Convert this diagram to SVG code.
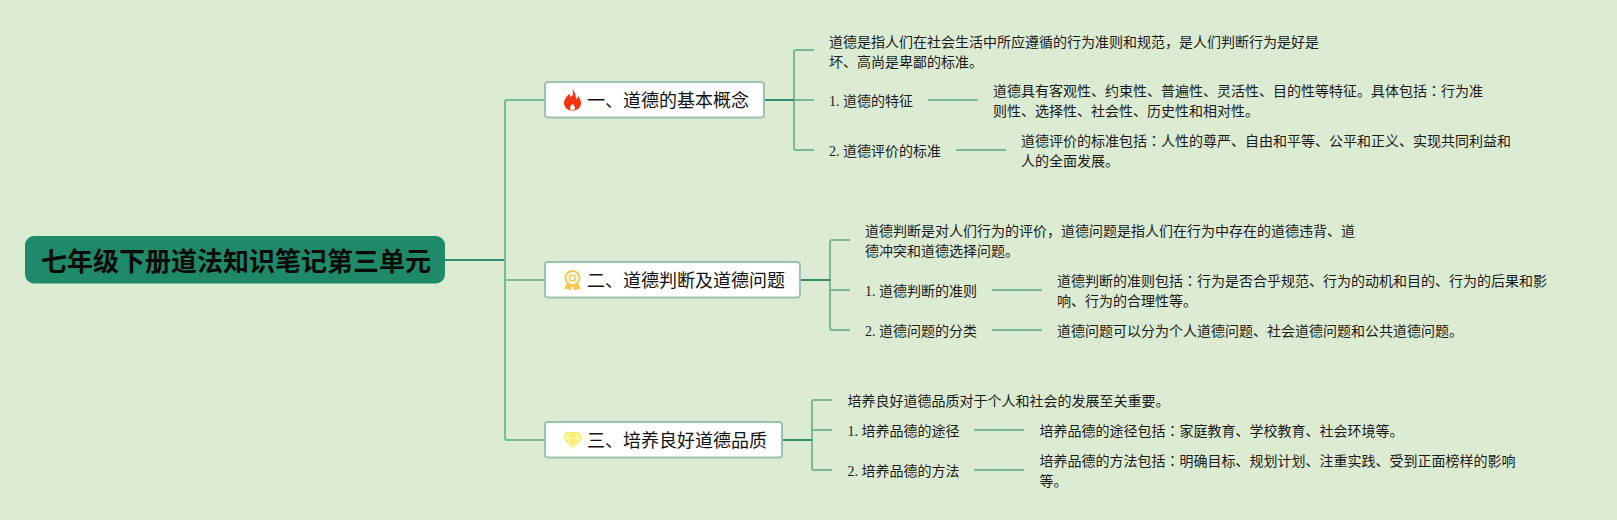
<svg xmlns="http://www.w3.org/2000/svg" width="1617" height="520" viewBox="0 0 1617 520">
<style>
text{font-family:"Liberation Serif","Noto Sans CJK SC",sans-serif;fill:#1a1a1a}
.t{font-size:14px}
.b{font-size:18px;fill:#111}
.r{font-size:26px;font-weight:700;fill:#0a0a0a}
.c{font-family:"Noto Sans CJK JP",sans-serif}
.box{fill:#fff;stroke:#9cc2b2;stroke-width:2}
.l{fill:none;stroke:#7ab896;stroke-width:2}
.d{fill:none;stroke:#2e8d6c;stroke-width:2}
</style>
<rect width="1617" height="520" fill="#dcecd2"/>
<g id="connectors">
<path class="d" d="M445 260H505"/>
<path class="l" d="M545 100H507Q505 100 505 102V438Q505 440 507 440H545M505 280H545"/>
<path class="l" d="M814 50H796Q794 50 794 52V148Q794 150 796 150H814M794 100H814"/>
<path class="d" d="M764 100H794"/>
<path class="l" d="M928 100H978M956 150H1006"/>
<path class="l" d="M850 240H832Q830 240 830 242V328Q830 330 832 330H850M830 290H850"/>
<path class="d" d="M800 280H830"/>
<path class="l" d="M992 290H1042M992 330H1042"/>
<path class="l" d="M832 400H814Q812 400 812 402V468Q812 470 814 470H832M812 430H832"/>
<path class="d" d="M782 440H812"/>
<path class="l" d="M974 430H1024M974 470H1024"/>
</g>
<g id="root">
<rect x="25" y="236" width="420" height="47.500" rx="9" fill="#1f8a69"/>
<text class="r" x="41" y="271">七年级下册道法知识笔记第三单元</text>
</g>
<g id="branch1">
<rect class="box" x="545" y="82" width="219" height="35.500" rx="3"/>
<path d="M572 89C574 93 573 95 571 97C570 96 570 95 569 94C566 97 564 100 564 103C564 108 568 110.500 572.500 110.500C577 110.500 581 108 581 103C581 100 579 97 578 96C578 98 577 99 576 99C576 96 575 91 572 89ZM572.500 104C574 105.500 575 106.500 575 108C575 109.500 574 110 572.500 110C571 110 570 109.500 570 108C570 106.500 571 105.500 572.500 104Z" fill-rule="evenodd" fill="#f5330f"/>
<text class="b" x="587" y="107">一、道德的基本概念</text>
</g>
<g id="branch2">
<rect class="box" x="545" y="262" width="255" height="35.500" rx="3"/>
<circle cx="572.500" cy="278" r="7" fill="none" stroke="#f8c84e" stroke-width="2"/>
<circle cx="572.500" cy="278" r="3" fill="none" stroke="#f8c84e" stroke-width="1.500"/>
<path d="M567 283L564 289L568 289L570 291L572 286L575 291L577 289L581 289L578 283L572.500 286Z" fill="#f8c84e"/>
<text class="b" x="587" y="287">二、道德判断及道德问题</text>
</g>
<g id="branch3">
<rect class="box" x="545" y="422" width="237" height="35.500" rx="3"/>
<path d="M566 432H579L583 438L572.500 449L563 438Z" fill="#f7ee6a"/>
<path d="M563 438H583M569 433L567 438L572.500 448L578 438L576 433" fill="none" stroke="#fff" stroke-width=".8"/>
<text class="b" x="587" y="447">三、培养良好道德品质</text>
</g>
<g id="n1">
<text class="t" x="829" y="47">道德是指人们在社会生活中所应遵循的行为准则和规范，是人们判断行为是好是</text>
<text class="t" x="829" y="67">坏、高尚是卑鄙的标准。</text>
</g>
<g id="n2"><text class="t" x="829" y="106">1. 道德的特征</text></g>
<g id="n3">
<text class="t" x="993" y="96">道德具有客观性、约束性、普遍性、灵活性、目的性等特征。具体包括<tspan class="c">：</tspan>行为准</text>
<text class="t" x="993" y="116">则性、选择性、社会性、历史性和相对性。</text>
</g>
<g id="n4"><text class="t" x="829" y="156">2. 道德评价的标准</text></g>
<g id="n5">
<text class="t" x="1021" y="146">道德评价的标准包括<tspan class="c">：</tspan>人性的尊严、自由和平等、公平和正义、实现共同利益和</text>
<text class="t" x="1021" y="166">人的全面发展。</text>
</g>
<g id="n6">
<text class="t" x="865" y="236">道德判断是对人们行为的评价，道德问题是指人们在行为中存在的道德违背、道</text>
<text class="t" x="865" y="256">德冲突和道德选择问题。</text>
</g>
<g id="n7"><text class="t" x="865" y="296">1. 道德判断的准则</text></g>
<g id="n8">
<text class="t" x="1057" y="286">道德判断的准则包括<tspan class="c">：</tspan>行为是否合乎规范、行为的动机和目的、行为的后果和影</text>
<text class="t" x="1057" y="306">响、行为的合理性等。</text>
</g>
<g id="n9"><text class="t" x="865" y="336">2. 道德问题的分类</text></g>
<g id="n10"><text class="t" x="1057" y="336">道德问题可以分为个人道德问题、社会道德问题和公共道德问题。</text></g>
<g id="n11"><text class="t" x="847.500" y="406">培养良好道德品质对于个人和社会的发展至关重要。</text></g>
<g id="n12"><text class="t" x="847.500" y="436">1. 培养品德的途径</text></g>
<g id="n13"><text class="t" x="1039.500" y="436">培养品德的途径包括<tspan class="c">：</tspan>家庭教育、学校教育、社会环境等。</text></g>
<g id="n14"><text class="t" x="847.500" y="476">2. 培养品德的方法</text></g>
<g id="n15">
<text class="t" x="1039.500" y="466">培养品德的方法包括<tspan class="c">：</tspan>明确目标、规划计划、注重实践、受到正面榜样的影响</text>
<text class="t" x="1039.500" y="486">等。</text>
</g>
</svg>
